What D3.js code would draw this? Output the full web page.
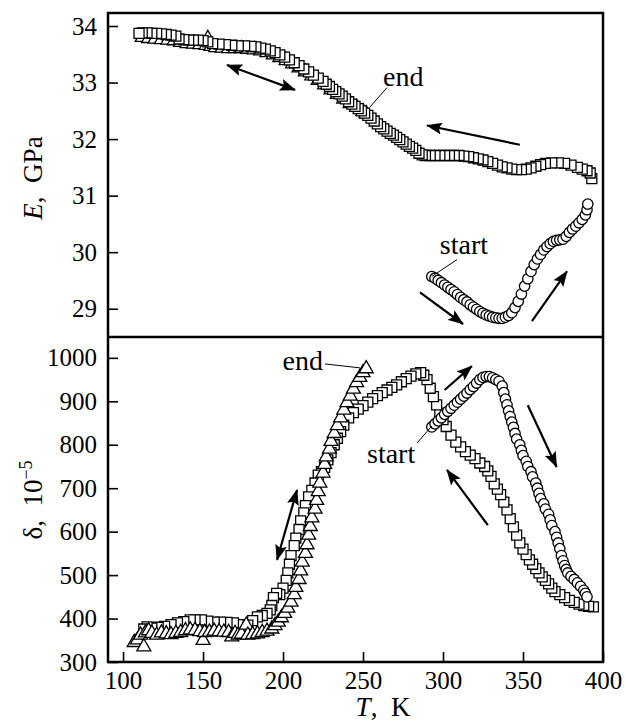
<!DOCTYPE html>
<html>
<head>
<meta charset="utf-8">
<script src="https://cdn.jsdelivr.net/npm/d3@7"></script>
<style>
  body { margin: 0; background: #fff; }
</style>
</head>
<body>
<svg id="chart"></svg>
<script>
// T axis ticks and value ticks
var tTicks = [100, 150, 200, 250, 300, 350, 400];
var eTicks = [29, 30, 31, 32, 33, 34];
var dTicks = [300, 400, 500, 600, 700, 800, 900, 1000];

// top panel: E (GPa) vs T (K)
var eSquares = [
  [393, 31.30], [392, 31.40], [390, 31.44], [387, 31.47], [384, 31.50], [380, 31.54], [376, 31.57],
  [372, 31.58], [368, 31.58], [364, 31.57], [361, 31.55], [358, 31.52], [355, 31.49], [352, 31.47],
  [349, 31.46], [346, 31.46], [343, 31.47], [340, 31.49], [337, 31.51], [334, 31.54], [331, 31.57],
  [328, 31.60], [325, 31.63], [322, 31.65], [319, 31.67], [316, 31.69], [313, 31.70], [310, 31.71],
  [307, 31.71], [304, 31.71], [301, 31.71], [298, 31.71], [295, 31.71], [292, 31.71], [289, 31.71],
  [287, 31.72], [285, 31.75], [283, 31.80], [281, 31.84], [279, 31.87], [277, 31.91], [275, 31.95],
  [273, 31.99], [271, 32.03], [269, 32.07], [267, 32.10], [265, 32.14], [263, 32.18], [261, 32.22],
  [259, 32.27], [257, 32.32], [255, 32.37], [253, 32.42], [251, 32.46], [249, 32.50], [247, 32.54],
  [245, 32.58], [243, 32.62], [241, 32.66], [239, 32.71], [237, 32.76], [235, 32.80], [233, 32.84],
  [231, 32.88], [229, 32.93], [227, 32.97], [225, 33.02], [222, 33.08], [219, 33.13], [216, 33.19],
  [213, 33.24], [210, 33.30], [207, 33.35], [204, 33.40], [201, 33.45], [198, 33.49], [195, 33.53],
  [192, 33.56], [189, 33.59], [186, 33.61], [183, 33.63], [180, 33.64], [176, 33.65], [172, 33.65],
  [168, 33.66], [164, 33.67], [160, 33.68], [156, 33.69], [153, 33.72], [150, 33.74], [147, 33.75],
  [144, 33.75], [141, 33.75], [138, 33.76], [135, 33.77], [133, 33.82], [130, 33.84], [127, 33.85],
  [124, 33.86], [121, 33.87], [118, 33.87], [115, 33.88], [112, 33.88], [110, 33.87]
];
var eTriangles = [
  [112, 33.80], [116, 33.78], [120, 33.77], [124, 33.76], [128, 33.75], [132, 33.74], [136, 33.71],
  [140, 33.69], [144, 33.68], [148, 33.67], [152, 33.66], [153, 33.78], [155, 33.64], [158, 33.62],
  [162, 33.61], [166, 33.60], [170, 33.60], [174, 33.60], [178, 33.59], [182, 33.58], [186, 33.56],
  [190, 33.53], [194, 33.49], [198, 33.44], [202, 33.39], [206, 33.33], [210, 33.26], [214, 33.19],
  [218, 33.12], [222, 33.04], [226, 32.96], [230, 32.87], [234, 32.79], [238, 32.71], [242, 32.63],
  [246, 32.56], [250, 32.49], [252, 32.45]
];
var eCircles = [
  [293, 29.57], [295, 29.54], [297, 29.50], [299, 29.46], [301, 29.42], [303, 29.38], [305, 29.34],
  [307, 29.30], [309, 29.25], [311, 29.20], [313, 29.16], [315, 29.12], [317, 29.07], [319, 29.03],
  [321, 28.99], [323, 28.95], [325, 28.92], [327, 28.89], [329, 28.87], [331, 28.85], [333, 28.84],
  [335, 28.83], [337, 28.83], [339, 28.85], [341, 28.88], [343, 28.93], [345, 29.02], [347, 29.13],
  [349, 29.26], [351, 29.40], [353, 29.53], [355, 29.66], [357, 29.78], [359, 29.88], [361, 29.96],
  [363, 30.04], [365, 30.10], [367, 30.15], [369, 30.19], [371, 30.21], [373, 30.22], [375, 30.23],
  [377, 30.28], [379, 30.35], [381, 30.41], [383, 30.46], [385, 30.52], [387, 30.58], [389, 30.66],
  [390, 30.75], [390.5, 30.85]
];

// bottom panel: delta (1e-5) vs T (K)
var dSquares = [
  [394, 427], [391, 428], [388, 430], [385, 433], [382, 437], [379, 442], [376, 448], [373, 455],
  [370, 462], [368, 470], [366, 480], [364, 488], [362, 496], [360, 505], [358, 515], [356, 525],
  [354, 535], [352, 547], [350, 560], [348, 574], [346, 592], [344, 611], [342, 630], [340, 650],
  [338, 668], [336, 685], [334, 698], [332, 710], [330, 727], [328, 740], [326, 750], [323, 758],
  [320, 768], [317, 776], [314, 784], [311, 795], [308, 806], [305, 822], [302, 842], [300, 858],
  [298, 873], [296, 892], [294, 911], [292, 930], [290, 950], [288, 960], [286, 966], [283, 963],
  [280, 958], [277, 952], [274, 945], [271, 938], [268, 932], [265, 926], [262, 920], [259, 913],
  [256, 906], [253, 898], [250, 890], [247, 882], [244, 874], [241, 862], [238, 845], [236, 830],
  [234, 815], [232, 800], [230, 782], [228, 765], [226, 748], [224, 738], [222, 730], [220, 712],
  [218, 695], [216, 680], [214, 660], [213, 643], [211, 625], [210, 605], [208, 585], [207, 568],
  [205, 545], [204, 525], [203, 505], [202, 488], [200, 470], [198, 455], [196, 458], [194, 448],
  [193, 430], [192, 420], [190, 412], [187, 407], [184, 404], [181, 395], [178, 385], [175, 382],
  [172, 386], [169, 390], [165, 391], [161, 392], [157, 392], [153, 394], [149, 397], [145, 397],
  [142, 397], [138, 393], [134, 390], [130, 386], [126, 382], [122, 380], [118, 378], [115, 381],
  [113, 376]
];
var dTriangles = [
  [107, 345], [109, 351], [111, 362], [113, 335], [114, 367], [116, 372], [118, 366], [121, 362],
  [124, 367], [127, 365], [130, 363], [133, 366], [136, 368], [139, 372], [142, 374], [145, 373],
  [148, 370], [150, 350], [151, 368], [154, 369], [157, 371], [160, 370], [163, 369], [166, 368],
  [168, 358], [170, 366], [172, 362], [174, 364], [177, 385], [178, 362], [181, 363], [184, 365],
  [187, 368], [190, 371], [193, 376], [195, 384], [197, 392], [199, 402], [201, 412], [203, 424],
  [205, 438], [207, 455], [208, 472], [210, 490], [211, 510], [212, 530], [214, 550], [215, 570],
  [216, 592], [217, 612], [218, 632], [220, 652], [221, 672], [222, 692], [223, 712], [225, 735],
  [226, 755], [227, 772], [229, 790], [230, 808], [232, 826], [234, 844], [236, 862], [238, 880],
  [240, 897], [242, 912], [244, 928], [246, 943], [248, 955], [250, 966], [252, 975]
];
var dCircles = [
  [293, 841], [295, 848], [297, 855], [299, 862], [301, 870], [303, 877], [305, 884], [307, 891],
  [309, 898], [311, 905], [313, 912], [315, 919], [317, 927], [319, 934], [321, 942], [323, 950],
  [325, 955], [327, 957], [329, 957], [331, 954], [333, 950], [335, 946], [337, 935], [338, 920],
  [339, 905], [340, 892], [341, 878], [342, 865], [343, 852], [344, 840], [345, 826], [346, 813],
  [348, 800], [349, 787], [350, 775], [352, 762], [353, 750], [355, 738], [356, 726], [358, 712],
  [359, 700], [360, 688], [361, 676], [363, 664], [364, 652], [366, 640], [367, 627], [368, 614],
  [370, 600], [371, 587], [372, 574], [373, 561], [374, 545], [375, 533], [376, 522], [377, 513],
  [378, 505], [380, 497], [382, 490], [384, 482], [386, 474], [388, 465], [389, 458], [390, 450]
];

// annotation arrows: [from, to, doubleHeaded]
var eArrows = [
  [[165, 33.31], [207.5, 32.87], true],
  [[348, 31.90], [290, 32.24], false],
  [[285.6, 29.29], [312.5, 28.73], false],
  [[355.6, 28.78], [377.5, 29.66], false]
];
var dArrows = [
  [[208.75, 696], [196.25, 535], true],
  [[301, 926], [318, 981], false],
  [[353, 891], [371, 749], false],
  [[328, 615], [302.5, 742], false]
];

var width = 626,
  height = 721;

var serif = "Liberation Serif";

var svg = d3.select("#chart")
  .attr("width", width)
  .attr("height", height)
  .attr("font-family", serif);

var x = d3.scaleLinear().domain([90.6, 400]).range([108, 603]);
var yTop = d3.scaleLinear().domain([28.5, 34.23]).range([337, 13]);
var yBot = d3.scaleLinear().domain([300, 1048]).range([662, 337]);

var defs = svg.append("defs");
defs.append("marker")
  .attr("id", "head")
  .attr("markerUnits", "userSpaceOnUse")
  .attr("viewBox", "0 0 16 12")
  .attr("refX", 15)
  .attr("refY", 6)
  .attr("markerWidth", 16)
  .attr("markerHeight", 12)
  .attr("orient", "auto-start-reverse")
  .append("path")
  .attr("d", "M0,0 L16,6 L0,12 L3,6 Z")
  .attr("fill", "#000");

function styleAxis(g) {
  g.select(".domain").remove();
  g.attr("font-family", serif).attr("font-size", 25);
  g.selectAll("line").attr("stroke", "#000").attr("stroke-width", 1.6);
  g.selectAll("text")
    .attr("font-family", serif)
    .attr("font-size", 25)
    .attr("fill", "#000");
}

function drawAxisY(scale, ticks) {
  var g = svg.append("g")
    .attr("transform", "translate(108,0)")
    .call(d3.axisLeft(scale).tickValues(ticks).tickFormat(d3.format("d")).tickSize(-10).tickPadding(11));
  styleAxis(g);
}

drawAxisY(yTop, eTicks);
drawAxisY(yBot, dTicks);

var gx = svg.append("g")
  .attr("transform", "translate(0,662)")
  .call(d3.axisBottom(x).tickValues(tTicks).tickFormat(d3.format("d")).tickSize(-10).tickPadding(9));
styleAxis(gx);

var sq = d3.symbol().type(d3.symbolSquare).size(100);
var tri = d3.symbol().type(d3.symbolTriangle).size(85);

function drawSeries(data, scale, kind) {
  var g = svg.append("g");
  if (kind === "circle") {
    g.selectAll("circle")
      .data(data)
      .join("circle")
      .attr("cx", function(d) { return x(d[0]); })
      .attr("cy", function(d) { return scale(d[1]); })
      .attr("r", 5.2)
      .attr("fill", "#fff")
      .attr("stroke", "#000")
      .attr("stroke-width", 1.3);
  } else {
    g.selectAll("path")
      .data(data)
      .join("path")
      .attr("d", kind === "square" ? sq : tri)
      .attr("transform", function(d) { return "translate(" + x(d[0]) + "," + scale(d[1]) + ")"; })
      .attr("fill", "#fff")
      .attr("stroke", "#000")
      .attr("stroke-width", 1.3);
  }
}

drawSeries(eTriangles, yTop, "triangle");
drawSeries(eSquares, yTop, "square");
drawSeries(eCircles, yTop, "circle");

drawSeries(dSquares, yBot, "square");
drawSeries(dTriangles, yBot, "triangle");
drawSeries(dCircles, yBot, "circle");

function drawArrows(list, scale) {
  list.forEach(function(a) {
    var line = svg.append("line")
      .attr("x1", x(a[0][0]))
      .attr("y1", scale(a[0][1]))
      .attr("x2", x(a[1][0]))
      .attr("y2", scale(a[1][1]))
      .attr("stroke", "#000")
      .attr("stroke-width", 2.2)
      .attr("marker-end", "url(#head)");
    if (a[2]) line.attr("marker-start", "url(#head)");
  });
}

drawArrows(eArrows, yTop);
drawArrows(dArrows, yBot);

// labels with leader lines
function label(txt, t, v, scale, anchor) {
  svg.append("text")
    .attr("x", x(t))
    .attr("y", scale(v))
    .attr("text-anchor", anchor)
    .attr("font-family", serif)
    .attr("font-size", 28)
    .text(txt);
}
function leader(p, q, scale) {
  svg.append("line")
    .attr("x1", x(p[0])).attr("y1", scale(p[1]))
    .attr("x2", x(q[0])).attr("y2", scale(q[1]))
    .attr("stroke", "#000")
    .attr("stroke-width", 1);
}

label("end", 262.5, 32.94, yTop, "start");
leader([265, 32.91], [254.4, 32.57], yTop);
label("start", 298, 29.96, yTop, "start");
leader([308.75, 29.87], [293, 29.57], yTop);

label("end", 225, 972, yBot, "end");
leader([226.25, 986], [248, 977], yBot);
label("start", 252.5, 758, yBot, "start");
leader([283.75, 804], [293, 843], yBot);

// frames
svg.append("rect")
  .attr("x", 108).attr("y", 13)
  .attr("width", 495).attr("height", 649)
  .attr("fill", "none")
  .attr("stroke", "#000")
  .attr("stroke-width", 2.5);
svg.append("line")
  .attr("x1", 108).attr("x2", 603)
  .attr("y1", 337).attr("y2", 337)
  .attr("stroke", "#000")
  .attr("stroke-width", 2.5);

// axis titles
var eTitle = svg.append("text")
  .attr("transform", "translate(42,178) rotate(-90)")
  .attr("text-anchor", "middle")
  .attr("font-family", serif)
  .attr("font-size", 27)
  .attr("xml:space", "preserve");
eTitle.append("tspan").attr("font-style", "italic").text("E");
eTitle.append("tspan").text(",  GPa");

var dTitle = svg.append("text")
  .attr("transform", "translate(42,500) rotate(-90)")
  .attr("text-anchor", "middle")
  .attr("font-family", serif)
  .attr("font-size", 27)
  .attr("xml:space", "preserve");
dTitle.append("tspan").text("δ,  10");
dTitle.append("tspan").attr("font-size", 18).attr("dy", -10).text("−5");

var tTitle = svg.append("text")
  .attr("x", 383)
  .attr("y", 716)
  .attr("text-anchor", "middle")
  .attr("font-family", serif)
  .attr("font-size", 27)
  .attr("xml:space", "preserve");
tTitle.append("tspan").attr("font-style", "italic").text("T");
tTitle.append("tspan").text(",  K");
</script>
</body>
</html>
